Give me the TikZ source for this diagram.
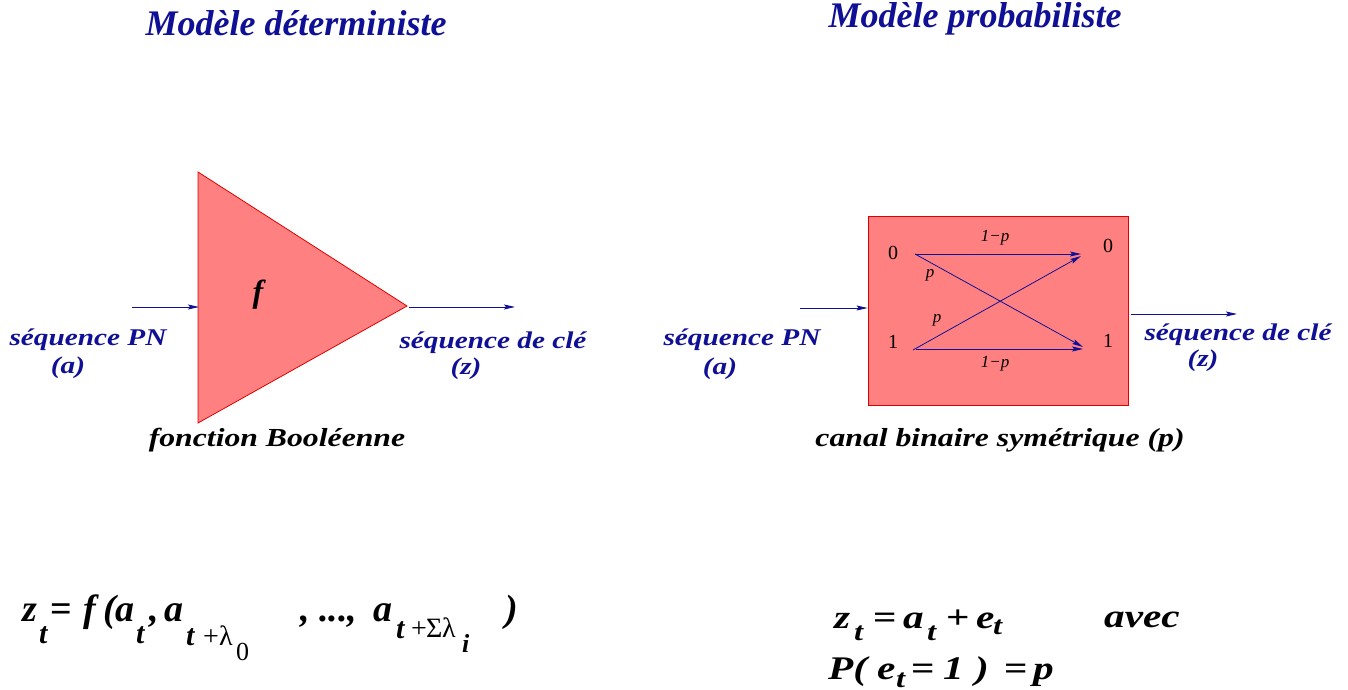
\documentclass[tikz,border=0pt]{standalone}
\usepackage{fontspec}
\setmainfont{Liberation Serif}
\newfontfamily\widefont{Liberation Serif}[FakeStretch=1.22]
\newfontfamily\eqwide{Liberation Serif}[FakeStretch=1.25]
\usetikzlibrary{arrows.meta}
\definecolor{navy}{RGB}{16,16,150}
\definecolor{boxfill}{RGB}{255,128,128}
\definecolor{boxline}{RGB}{225,0,0}
\begin{document}
\begin{tikzpicture}[x=1pt,y=-1pt,
  title/.style={font=\fontsize{36}{40}\selectfont\bfseries\itshape, text=navy, inner sep=0pt},
  lab/.style={font=\widefont\fontsize{24}{27}\selectfont\bfseries\itshape, text=navy, align=center, inner sep=0pt},
  captext/.style={font=\widefont\fontsize{26}{28}\selectfont\bfseries\itshape, text=black, inner sep=0pt},
  sym/.style={font=\fontsize{20}{22}\selectfont, inner sep=0pt},
  prob/.style={font=\fontsize{17}{19}\selectfont\itshape, inner sep=0pt},
  flow/.style={navy, line width=0.9pt, -{Stealth[length=11pt,width=5pt,inset=2pt]}},
  gl/.style={inner sep=0pt, anchor=base west},
  mainL/.style={gl, font=\fontsize{38}{40}\selectfont\bfseries\itshape},
  subL/.style={gl, font=\fontsize{30}{32}\selectfont\bfseries\itshape},
  symL/.style={gl, font=\fontsize{28}{30}\selectfont},
  mainR/.style={gl, font=\eqwide\fontsize{33}{36}\selectfont\bfseries\itshape},
  opR/.style={gl, font=\eqwide\fontsize{33}{36}\selectfont\bfseries},
  subR/.style={gl, font=\eqwide\fontsize{26}{28}\selectfont\bfseries\itshape}]
\useasboundingbox (0,0) rectangle (1348,690);
% titles
\node[title] (t1) at (296,23) {Modèle déterministe};
\node[title] (t2) at (975,19) {Modèle probabiliste};
% triangle
\coordinate (ta) at (198,172);
\coordinate (tb) at (198,423);
\coordinate (tc) at (407,306);
\fill[boxfill, draw=boxline, line width=0.8pt] (ta) -- (tc) -- (tb) -- cycle;
\node[font=\fontsize{32}{34}\selectfont\bfseries\itshape] (fl) at (258,295) {f};
\coordinate (in1) at (132,307);
\coordinate (in1e) at (199,307);
\coordinate (out1s) at (409,307);
\coordinate (out1e) at (515,307);
\draw[flow] (in1) -- (in1e);
\draw[flow] (out1s) -- (out1e);
\node[lab] (pn1) at (88,340) {séquence PN};
\node[lab] (a1) at (68,368) {(a)};
\node[lab] (k1) at (493,343) {séquence de clé};
\node[lab] (z1) at (466,369) {(z)};
\node[captext] (fb) at (277,440) {fonction Booléenne};
% channel box
\node[draw=boxline, fill=boxfill, line width=0.8pt, minimum width=260pt, minimum height=189pt, inner sep=0pt] (bx) at (998,310.5) {};
\coordinate (in2) at (800,308);
\coordinate (out2s) at (1131,314);
\coordinate (out2e) at (1237,314);
\draw[flow] (in2) -- (in2 -| bx.west);
\draw[flow] (out2s) -- (out2e);
\node[lab] (pn2) at (742,340) {séquence PN};
\node[lab] (a2) at (720,369) {(a)};
\node[lab] (k2) at (1238,335) {séquence de clé};
\node[lab] (z2) at (1203,361) {(z)};
\node[captext] (cb) at (1000,440) {canal binaire symétrique (p)};
% inside
\node[sym] (l0) at (893,253) {0};
\node[sym] (r0) at (1108,246) {0};
\node[sym] (l1) at (893,342) {1};
\node[sym] (r1) at (1108,341) {1};
\coordinate (s0) at (915,254);
\coordinate (s1) at (913,350);
\coordinate (e0) at (1081,254);
\coordinate (e1) at (1083,349);
\coordinate (e0b) at (1081,256);
\coordinate (e1b) at (1083,347);
\draw[flow, line width=0.8pt] (s0) -- (e0);
\draw[flow, line width=0.8pt] (s0) -- (e1b);
\draw[flow, line width=0.8pt] (s1) -- (e0b);
\draw[flow, line width=0.8pt] (916,349) -- (e1);
\node[prob] (p1) at (995,238) {1−p};
\node[prob] (p2) at (930,275) {p};
\node[prob] (p3) at (937,320) {p};
\node[prob] (p4) at (995,364) {1−p};
% left equation
\node[mainL] (q1) at (22,621) {z};
\node[subL] (q2) at (39,643) {t};
\node[mainL, font=\fontsize{38}{40}\selectfont\bfseries] (q3) at (50,621) {=};
\node[mainL] (q4) at (83,621) {f};
\node[mainL] (q5) at (103,621) {(};
\node[mainL] (q6) at (115,621) {a};
\node[subL] (q7) at (136,643) {t};
\node[mainL] (q8) at (149,621) {,};
\node[mainL] (q9) at (164,621) {a};
\node[subL] (q10) at (186,645) {t};
\node[symL] (q11) at (203,645) {+};
\node[symL] (q12) at (219,645) {λ};
\node[symL, font=\fontsize{26}{28}\selectfont] (q13) at (236,660) {0};
\node[mainL] (q14) at (300,621) {, ..., };
\node[mainL] (q15) at (373,621) {a};
\node[subL] (q16) at (396,638) {t};
\node[symL] (q17) at (411,637) {+};
\node[symL] (q18) at (426,637) {Σ};
\node[symL] (q19) at (442,637) {λ};
\node[subL, font=\fontsize{26}{28}\selectfont\bfseries\itshape] (q20) at (462,652) {i};
\node[mainL] (q21) at (505,621) {)};
% right equations
\node[mainR] (r1a) at (834,628) {z};
\node[subR] (r1b) at (854,640) {t};
\node[opR] (r1c) at (873,628) {=};
\node[mainR] (r1d) at (903,628) {a};
\node[subR] (r1e) at (927,640) {t};
\node[opR] (r1f) at (946,628) {+};
\node[mainR] (r1g) at (976,628) {e};
\node[subR] (r1h) at (993,634) {t};
\node[mainR] (avec) at (1104,627) {avec};
\node[mainR] (r2a) at (828,679) {P(};
\node[mainR] (r2b) at (877,679) {e};
\node[subR] (r2c) at (896,687) {t};
\node[opR] (r2d) at (911,679) {=};
\node[mainR] (r2e) at (943,679) {1};
\node[mainR] (r2f) at (975,679) {)};
\node[opR] (r2g) at (1004,679) {=};
\node[mainR] (r2h) at (1033,679) {p};
\end{tikzpicture}
\end{document}
